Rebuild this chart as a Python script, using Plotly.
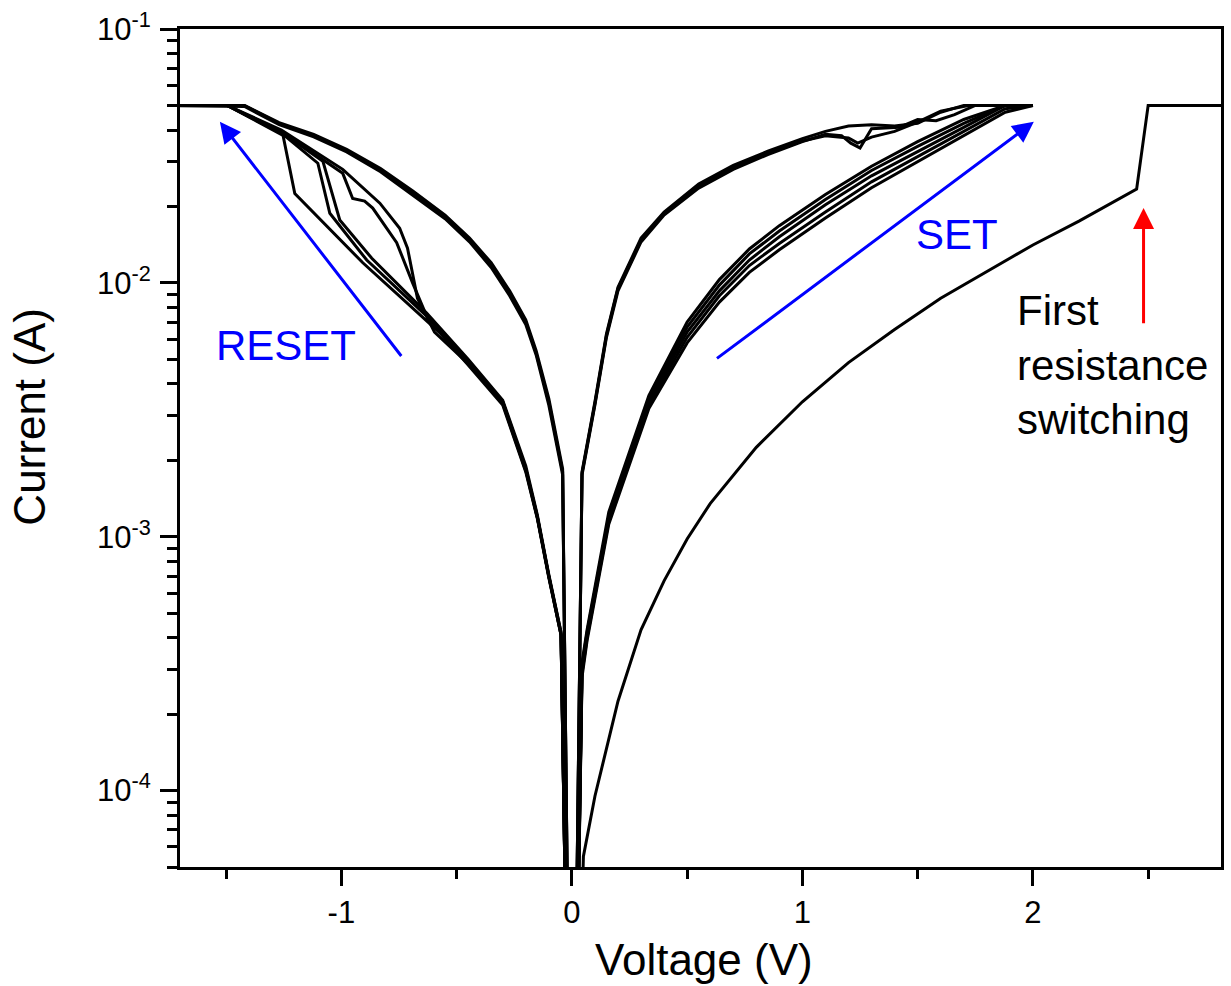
import plotly.graph_objects as go
import numpy as np

# ---------------- data ----------------
# First sweep (forming)
form_V = [0.0, 0.05, 0.1, 0.2, 0.3, 0.4, 0.5, 0.6, 0.8, 1.0, 1.2, 1.4, 1.6, 1.8, 2.0, 2.2, 2.45, 2.5, 3.0]
form_I = [1e-6, 5.5e-5, 9.5e-5, 2.25e-4, 4.3e-4, 6.7e-4, 9.8e-4, 1.35e-3, 2.25e-3, 3.4e-3, 4.85e-3,
          6.55e-3, 8.7e-3, 1.11e-2, 1.41e-2, 1.75e-2, 2.34e-2, 5.0e-2, 5.0e-2]

# Negative LRS branch (three cycles overlapping)
lrsn_V = [0.0, -0.04, -0.1, -0.155, -0.2, -0.27, -0.35, -0.444, -0.55, -0.69, -0.83, -0.977, -1.12, -1.27, -1.42, -1.8]
lrsn1_I = [1e-6, 1.8e-3, 3.4e-3, 5.3e-3, 7.0e-3, 9.1e-3, 1.17e-2, 1.48e-2, 1.82e-2, 2.26e-2, 2.78e-2, 3.32e-2, 3.8e-2, 4.24e-2, 5.0e-2, 5.0e-2]
lrsn2_I = [1e-6, 1.75e-3, 3.3e-3, 5.2e-3, 6.85e-3, 8.9e-3, 1.15e-2, 1.45e-2, 1.79e-2, 2.22e-2, 2.74e-2, 3.28e-2, 3.76e-2, 4.2e-2, 4.95e-2, 5.0e-2]
lrsn3_I = [1e-6, 1.85e-3, 3.5e-3, 5.4e-3, 7.15e-3, 9.3e-3, 1.2e-2, 1.5e-2, 1.85e-2, 2.3e-2, 2.82e-2, 3.36e-2, 3.84e-2, 4.28e-2, 5.0e-2, 5.0e-2]

# Negative return branches with RESET drops
n1_V = [-1.8, -1.495, -1.253, -1.202, -0.907, -0.574, -0.45, -0.3, -0.2, -0.15, -0.1, -0.047, 0.0]
n1_I = [5e-2, 5e-2, 3.81e-2, 2.25e-2, 1.2e-2, 6.37e-3, 4.75e-3, 3.3e-3, 1.8e-3, 1.18e-3, 6.9e-4, 4.1e-4, 1e-6]
n2_V = [-1.8, -1.495, -1.253, -1.102, -1.05, -0.89, -0.63, -0.45, -0.3, -0.2, -0.15, -0.1, -0.047, 0.0]
n2_I = [5e-2, 5e-2, 3.85e-2, 2.96e-2, 1.88e-2, 1.23e-2, 7.4e-3, 4.9e-3, 3.4e-3, 1.85e-3, 1.2e-3, 7.0e-4, 4.2e-4, 1e-6]
n3_V = [-1.8, -1.495, -1.253, -1.08, -1.007, -0.868, -0.63, -0.45, -0.3, -0.2, -0.15, -0.1, -0.047, 0.0]
n3_I = [5e-2, 5e-2, 3.88e-2, 3.01e-2, 1.77e-2, 1.25e-2, 7.6e-3, 5.0e-3, 3.45e-3, 1.9e-3, 1.22e-3, 7.1e-4, 4.2e-4, 1e-6]
n4_V = [-1.8, -1.495, -1.26, -0.994, -0.951, -0.899, -0.864, -0.76, -0.691, -0.63, -0.45, -0.3, -0.2, -0.15, -0.1, -0.047, 0.0]
n4_I = [5e-2, 5e-2, 3.95e-2, 2.7e-2, 2.15e-2, 2.1e-2, 1.97e-2, 1.44e-2, 1.0e-2, 7.4e-3, 4.95e-3, 3.4e-3, 1.85e-3, 1.2e-3, 7.0e-4, 4.1e-4, 1e-6]
n5_V = [-1.8, -1.495, -1.26, -0.994, -0.833, -0.747, -0.713, -0.67, -0.596, -0.45, -0.3, -0.2, -0.15, -0.1, -0.047, 0.0]
n5_I = [5e-2, 5e-2, 4.0e-2, 2.8e-2, 2.06e-2, 1.64e-2, 1.37e-2, 8.7e-3, 6.4e-3, 4.8e-3, 3.35e-3, 1.82e-3, 1.19e-3, 6.95e-4, 4.1e-4, 1e-6]

# Positive SET branches (HRS)
set_V = [0.0, 0.044, 0.066, 0.16, 0.334, 0.5, 0.64, 0.77, 0.9, 1.1, 1.3, 1.5, 1.7, 1.88, 2.0]
s1_I = [1e-6, 3.0e-4, 4.1e-4, 1.18e-3, 3.4e-3, 6.4e-3, 9.3e-3, 1.23e-2, 1.52e-2, 2.03e-2, 2.64e-2, 3.3e-2, 4.1e-2, 5.0e-2, 5.0e-2]
s2_I = [1e-6, 2.9e-4, 4.0e-4, 1.15e-3, 3.3e-3, 6.1e-3, 8.9e-3, 1.17e-2, 1.43e-2, 1.9e-2, 2.5e-2, 3.15e-2, 3.95e-2, 4.85e-2, 5.0e-2]
s3_I = [1e-6, 3.1e-4, 4.2e-4, 1.2e-3, 3.5e-3, 6.7e-3, 9.8e-3, 1.3e-2, 1.6e-2, 2.13e-2, 2.77e-2, 3.45e-2, 4.25e-2, 5.0e-2, 5.0e-2]
s4_I = [1e-6, 2.8e-4, 3.9e-4, 1.12e-3, 3.2e-3, 5.8e-3, 8.4e-3, 1.1e-2, 1.35e-2, 1.8e-2, 2.37e-2, 3.0e-2, 3.8e-2, 4.7e-2, 5.0e-2]
s5_I = [1e-6, 3.2e-4, 4.3e-4, 1.25e-3, 3.6e-3, 7.0e-3, 1.03e-2, 1.36e-2, 1.68e-2, 2.23e-2, 2.88e-2, 3.6e-2, 4.4e-2, 5.0e-2, 5.0e-2]

# Positive LRS return branches
r1_V = [2.0, 1.7, 1.6, 1.5, 1.4, 1.3, 1.2, 1.1, 1.0, 0.85, 0.7, 0.55, 0.4, 0.3, 0.2, 0.15, 0.1, 0.044, 0.0]
r1_I = [5e-2, 5e-2, 4.7e-2, 4.25e-2, 4.15e-2, 4.2e-2, 4.15e-2, 3.95e-2, 3.7e-2, 3.3e-2, 2.9e-2, 2.45e-2, 1.9e-2, 1.5e-2, 9.6e-3, 6.3e-3, 3.4e-3, 1.8e-3, 1e-6]
r2_V = [2.0, 1.75, 1.66, 1.58, 1.5, 1.42, 1.3, 1.25, 1.21, 1.17, 1.1, 1.0, 0.85, 0.7, 0.55, 0.4, 0.3, 0.2, 0.15, 0.1, 0.044, 0.0]
r2_I = [5e-2, 5e-2, 4.6e-2, 4.35e-2, 4.4e-2, 4.1e-2, 4.05e-2, 3.4e-2, 3.55e-2, 3.8e-2, 3.85e-2, 3.6e-2, 3.2e-2, 2.8e-2, 2.36e-2, 1.85e-2, 1.45e-2, 9.3e-3, 6.1e-3, 3.3e-3, 1.75e-3, 1e-6]
r3_V = [2.0, 1.72, 1.6, 1.5, 1.4, 1.3, 1.24, 1.2, 1.1, 1.0, 0.85, 0.7, 0.55, 0.4, 0.3, 0.2, 0.15, 0.1, 0.044, 0.0]
r3_I = [5e-2, 5e-2, 4.75e-2, 4.3e-2, 3.95e-2, 3.75e-2, 3.55e-2, 3.72e-2, 3.8e-2, 3.62e-2, 3.25e-2, 2.85e-2, 2.4e-2, 1.88e-2, 1.47e-2, 9.5e-3, 6.2e-3, 3.35e-3, 1.78e-3, 1e-6]

# Tick labels
x_tick_vals = [-1, 0, 1, 2]
x_tick_text = ["-1", "0", "1", "2"]
x_minor_vals = [-1.5, -0.5, 0.5, 1.5, 2.5]
y_tick_vals = [1e-4, 1e-3, 1e-2, 1e-1]
y_tick_text = ["10<sup>-4</sup>", "10<sup>-3</sup>", "10<sup>-2</sup>", "10<sup>-1</sup>"]
y_minor_vals = [k * 10.0 ** e for e in (-5, -4, -3, -2) for k in range(2, 10)]

# ---------------- figure ----------------
FONT = "Liberation Sans, Arial, sans-serif"
LW = 3
fig = go.Figure()

curves = [
    (form_V, form_I),
    (lrsn_V, lrsn1_I), (lrsn_V, lrsn2_I), (lrsn_V, lrsn3_I),
    (n1_V, n1_I), (n2_V, n2_I), (n3_V, n3_I), (n4_V, n4_I), (n5_V, n5_I),
    (set_V, s1_I), (set_V, s2_I), (set_V, s3_I), (set_V, s4_I), (set_V, s5_I),
    (r1_V, r1_I), (r2_V, r2_I), (r3_V, r3_I),
]
for v, i in curves:
    fig.add_trace(go.Scatter(x=v, y=i, mode="lines", line=dict(color="black", width=LW),
                             showlegend=False, hoverinfo="skip"))

axis_common = dict(showline=True, linewidth=3, linecolor="black", mirror=True,
                   showgrid=False, zeroline=False, ticks="outside", tickwidth=3,
                   tickcolor="black", tickfont=dict(family=FONT, size=31, color="black"))

fig.update_xaxes(range=[-1.7, 2.816], tickmode="array", tickvals=x_tick_vals, ticktext=x_tick_text,
                 ticklen=16,
                 minor=dict(tickmode="array", tickvals=x_minor_vals, ticks="outside", ticklen=9,
                            tickwidth=3, tickcolor="black", showgrid=False),
                 **axis_common)
fig.update_yaxes(type="log", range=[np.log10(5.0e-5), -1], tickmode="array", tickvals=y_tick_vals,
                 ticktext=y_tick_text, ticklen=17, ticklabelstandoff=3,
                 minor=dict(tickmode="array", tickvals=y_minor_vals, ticks="outside", ticklen=10,
                            tickwidth=3, tickcolor="black", showgrid=False),
                 **axis_common)

def arrow(x, y, ax, ay, color):
    fig.add_annotation(x=x, y=np.log10(y), ax=ax, ay=np.log10(ay), xref="x", yref="y",
                       axref="x", ayref="y", showarrow=True, arrowhead=2, arrowsize=1.4,
                       arrowwidth=3, arrowcolor=color, text="", standoff=0)

arrow(-1.527, 0.0431, -0.735, 5.08e-3, "#0000FF")
arrow(2.004, 0.0431, 0.623, 4.99e-3, "#0000FF")
arrow(2.48, 0.0197, 2.48, 6.84e-3, "#FF0000")

fig.add_annotation(x=-1.24, y=-2.247, xref="x", yref="y", text="RESET", showarrow=False,
                   font=dict(family=FONT, size=42, color="#0000FF"))
fig.add_annotation(x=1.672, y=-1.808, xref="x", yref="y", text="SET", showarrow=False,
                   font=dict(family=FONT, size=42, color="#0000FF"))
fig.add_annotation(x=1.922, y=-2.322, xref="x", yref="y", text="First<br>resistance<br>switching",
                   showarrow=False, xanchor="left", align="left",
                   font=dict(family=FONT, size=42, color="black"))

fig.add_annotation(x=0.503, y=-0.1105, xref="paper", yref="paper", text="Voltage (V)",
                   showarrow=False, xanchor="center", yanchor="middle",
                   font=dict(family=FONT, size=44, color="black"))
fig.add_annotation(x=-0.1446, y=0.538, xref="paper", yref="paper", text="Current (A)",
                   showarrow=False, textangle=-90, xanchor="center", yanchor="middle",
                   font=dict(family=FONT, size=44, color="black"))

fig.update_layout(width=1231, height=986, margin=dict(l=180, r=7, t=25, b=119),
                  paper_bgcolor="white", plot_bgcolor="white", showlegend=False)

fig.write_html("out.html")
